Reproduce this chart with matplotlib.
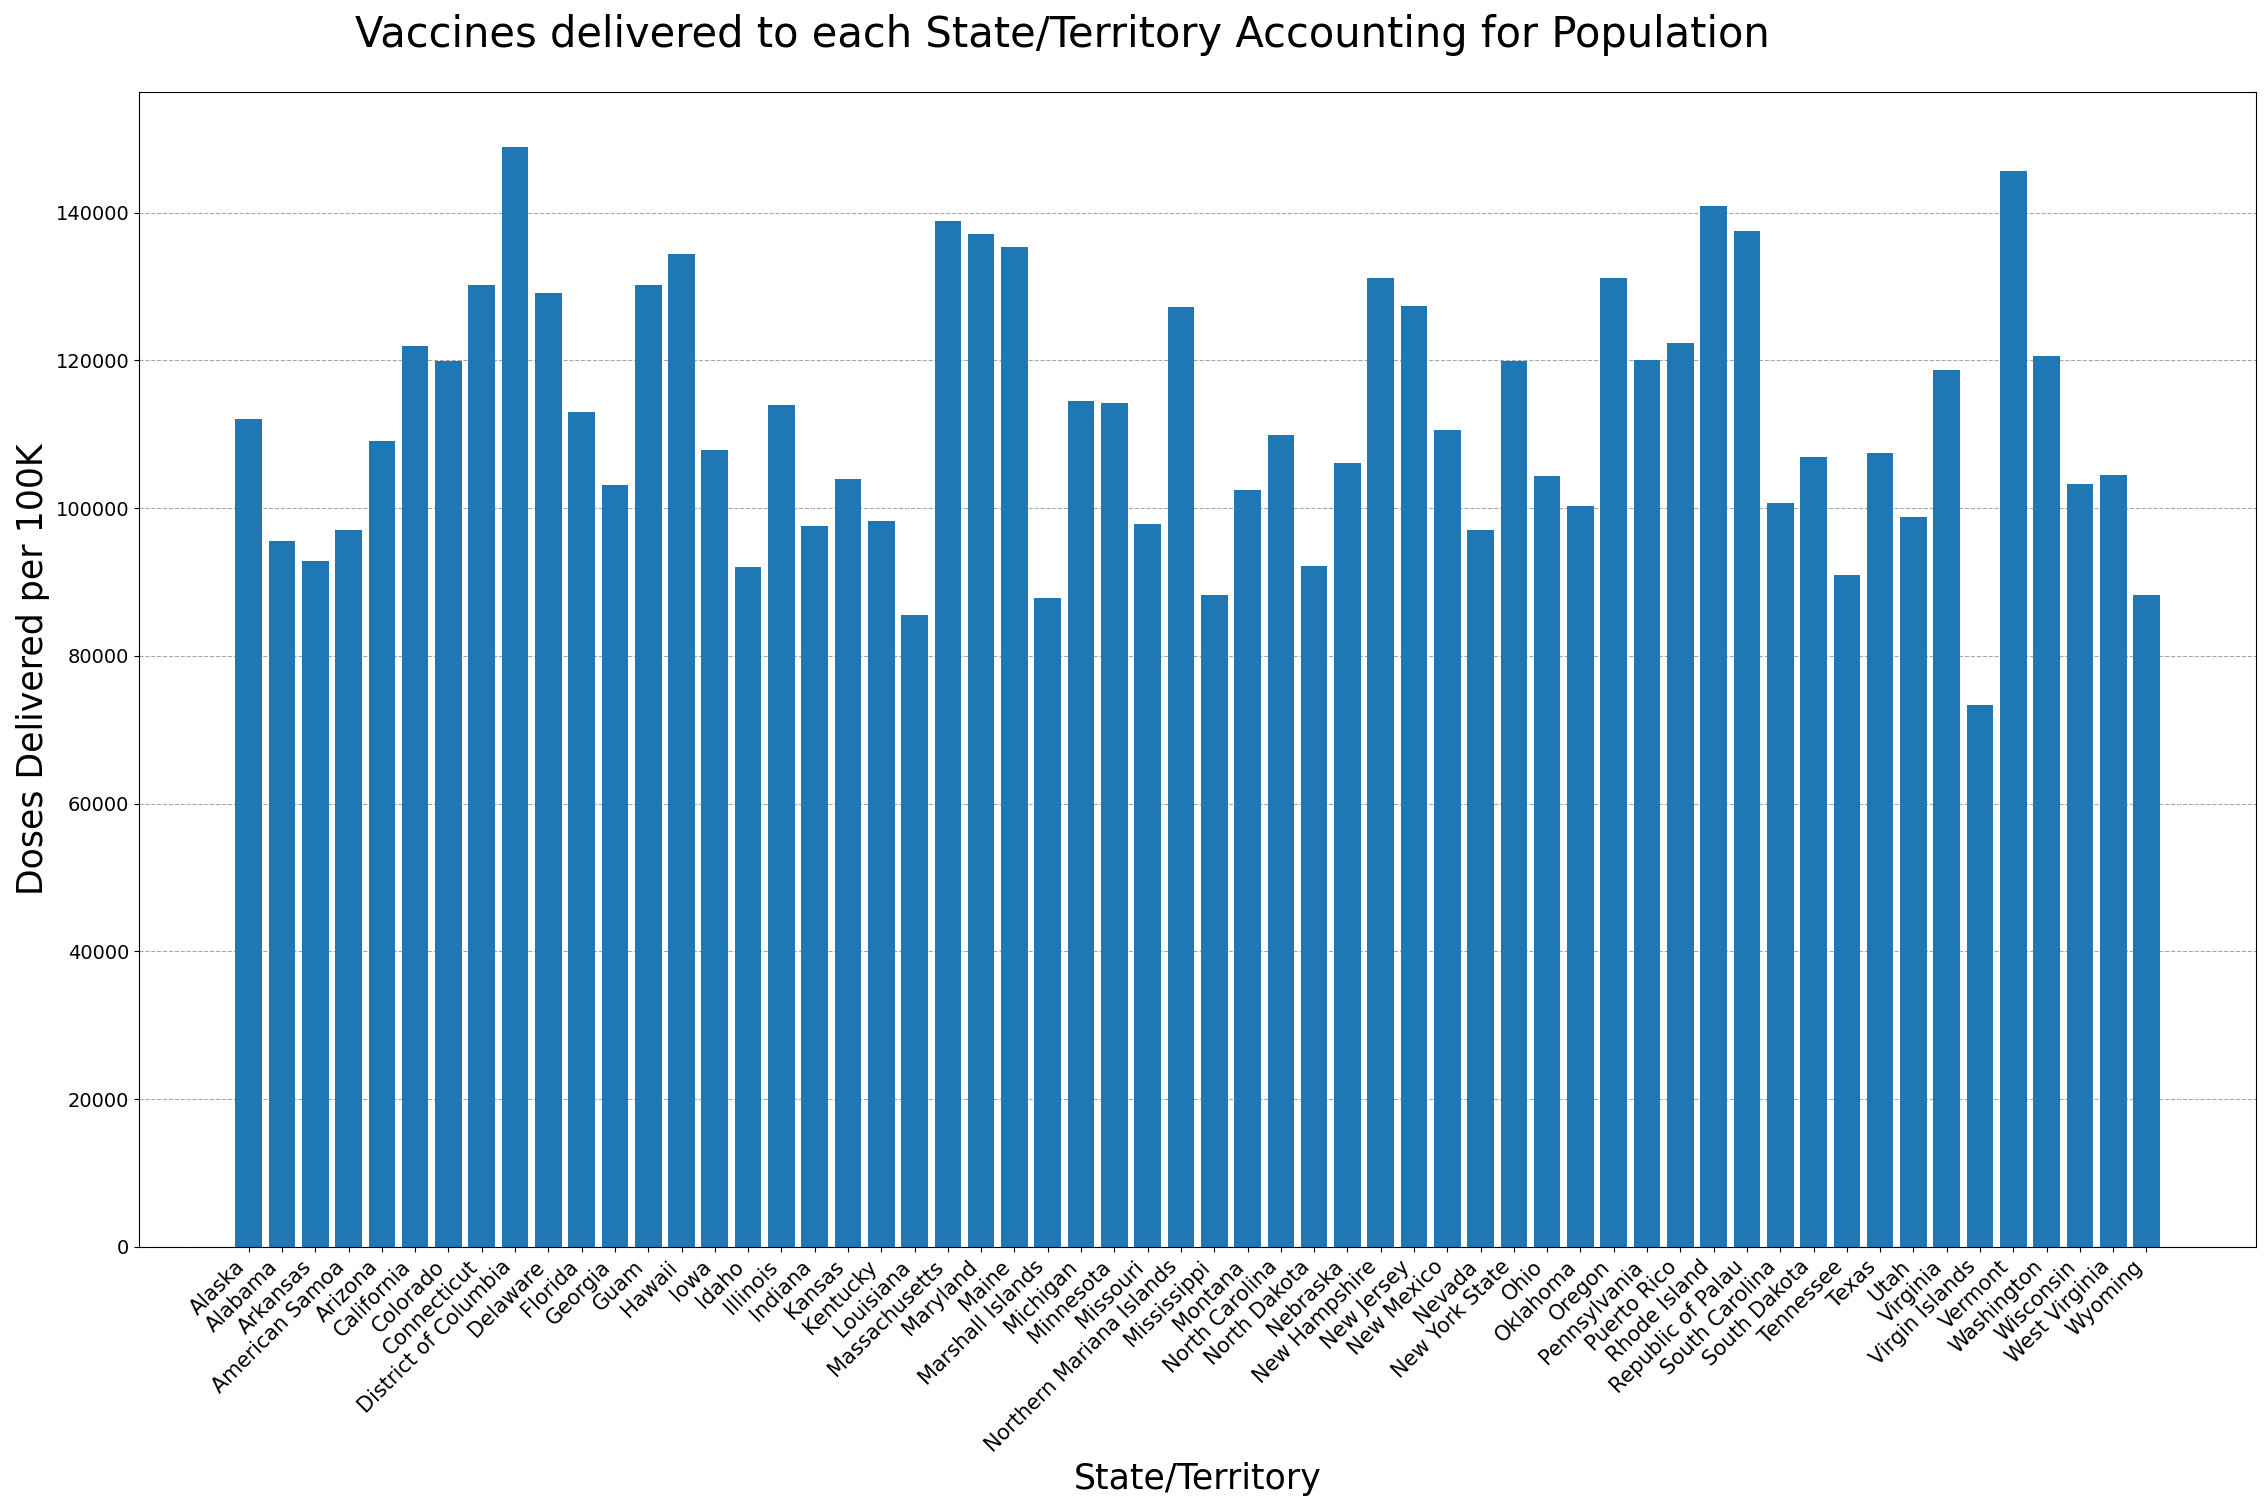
import matplotlib
matplotlib.use("Agg")
import matplotlib.pyplot as plt

states = ["Alaska", "Alabama", "Arkansas", "American Samoa", "Arizona", "California",
          "Colorado", "Connecticut", "District of Columbia", "Delaware", "Florida",
          "Georgia", "Guam", "Hawaii", "Iowa", "Idaho", "Illinois", "Indiana", "Kansas",
          "Kentucky", "Louisiana", "Massachusetts", "Maryland", "Maine", "Marshall Islands",
          "Michigan", "Minnesota", "Missouri", "Northern Mariana Islands", "Mississippi",
          "Montana", "North Carolina", "North Dakota", "Nebraska", "New Hampshire",
          "New Jersey", "New Mexico", "Nevada", "New York State", "Ohio", "Oklahoma",
          "Oregon", "Pennsylvania", "Puerto Rico", "Rhode Island", "Republic of Palau",
          "South Carolina", "South Dakota", "Tennessee", "Texas", "Utah", "Virginia",
          "Virgin Islands", "Vermont", "Washington", "Wisconsin", "West Virginia", "Wyoming"]

doses_per_100k = [112100, 95500, 92900, 97100, 109100, 122000,
                  119900, 130200, 148900, 129100, 113000,
                  103100, 130200, 134400, 107900, 92000, 114000, 97600, 104000,
                  98300, 85600, 138800, 137100, 135300, 87900,
                  114500, 114300, 97900, 127200, 88200,
                  102500, 109900, 92200, 106100, 131100,
                  127300, 110600, 97100, 119900, 104400, 100300,
                  131100, 120000, 122300, 140900, 137500,
                  100700, 106900, 90900, 107500, 98800, 118700,
                  73300, 145600, 120600, 103300, 104500, 88300]

fig = plt.figure(figsize=(22.66, 15.06), dpi=100)
ax = fig.add_axes([0.0614, 0.172, 0.9342, 0.767])
ax.bar(states, doses_per_100k, color="#1f77b4", zorder=2)
ax.yaxis.grid(True, linestyle="--", color="gray", alpha=0.7, linewidth=0.8, zorder=0)
ax.set_axisbelow(True)
ax.tick_params(axis="y", labelsize=14)
plt.setp(ax.get_xticklabels(), rotation=45, ha="right", fontsize=15)
ax.set_xlabel("State/Territory", fontsize=25)
ax.set_ylabel("Doses Delivered per 100K", fontsize=25)
fig.text(0.4687, 0.977, "Vaccines delivered to each State/Territory Accounting for Population",
         fontsize=30, ha="center", va="center")
fig.savefig("out.png", dpi=100)
